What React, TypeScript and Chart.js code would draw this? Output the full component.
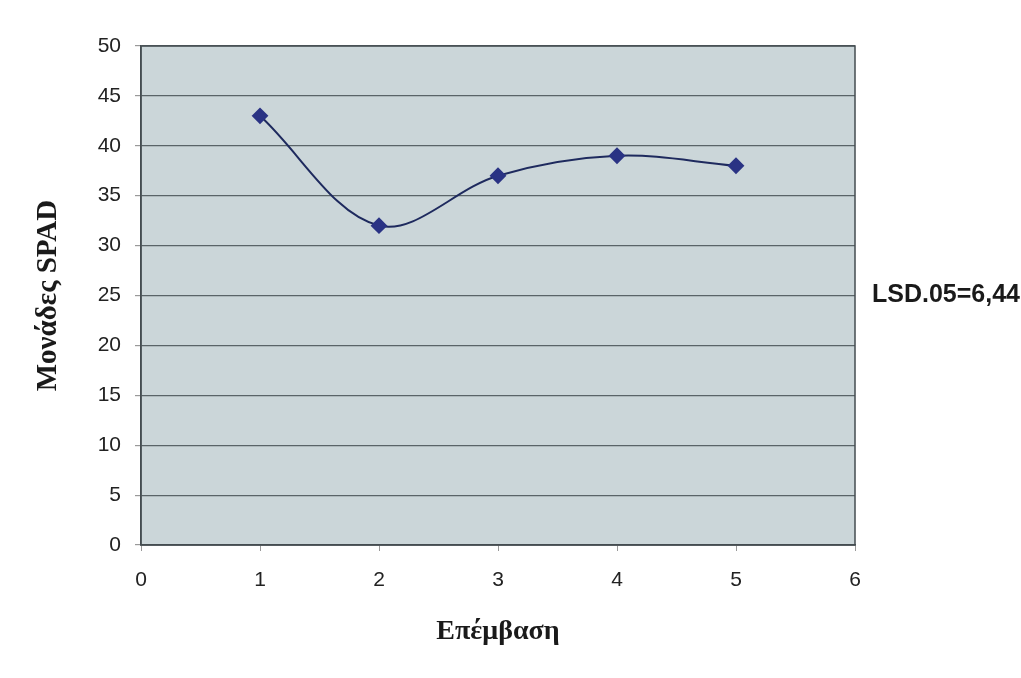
import React, { useEffect, useRef } from "react";
import { Chart, registerables } from "chart.js";

Chart.register(...registerables);

const treatments = [1, 2, 3, 4, 5];
const spadValues = [43, 32, 37, 39, 38];
const xTicksRange = { min: 0, max: 6, step: 1 };
const yTicksRange = { min: 0, max: 50, step: 5 };
const xTitle = "Επέμβαση";
const yTitle = "Μονάδες SPAD";
const lsdLabel = "LSD.05=6,44";
const lsdValue = 25;

const plotFrame = {
  id: "plotFrame",
  beforeDraw(chart: any) {
    const { ctx, chartArea } = chart;
    ctx.save();
    ctx.fillStyle = "#cbd6d9";
    ctx.fillRect(chartArea.left, chartArea.top, chartArea.right - chartArea.left, chartArea.bottom - chartArea.top);
    ctx.restore();
  },
  afterDatasetsDraw(chart: any) {
    const { ctx, chartArea, scales } = chart;
    ctx.save();
    ctx.strokeStyle = "#444c50";
    ctx.lineWidth = 1.5;
    ctx.strokeRect(chartArea.left, chartArea.top, chartArea.right - chartArea.left, chartArea.bottom - chartArea.top);
    ctx.fillStyle = "#1a1a1a";
    ctx.font = "bold 25px 'Liberation Sans', Arial, sans-serif";
    ctx.textAlign = "left";
    ctx.textBaseline = "middle";
    ctx.fillText(lsdLabel, chartArea.right + 17, scales.y.getPixelForValue(lsdValue));
    ctx.restore();
  },
};

export default function App() {
  const canvasRef = useRef<HTMLCanvasElement | null>(null);

  useEffect(() => {
    document.body.style.margin = "0";
    const canvas = canvasRef.current;
    if (!canvas) return;
    const chart = new Chart(canvas, {
      type: "line",
      data: {
        datasets: [
          {
            data: treatments.map((t, i) => ({ x: t, y: spadValues[i] })),
            borderColor: "#1e2a5e",
            borderWidth: 2,
            tension: 0.35,
            pointStyle: "rectRot",
            pointRadius: 7,
            pointBackgroundColor: "#2a3384",
            pointBorderColor: "#2a3384",
            fill: false,
          },
        ],
      },
      options: {
        animation: false,
        responsive: false,
        maintainAspectRatio: false,
        layout: { padding: { left: 0, right: 166, top: 46, bottom: 0 } },
        plugins: { legend: { display: false }, tooltip: { enabled: false } },
        scales: {
          x: {
            type: "linear",
            min: xTicksRange.min,
            max: xTicksRange.max,
            border: { display: true, color: "#444c50", width: 1.5 },
            grid: { drawOnChartArea: false, tickLength: 6, color: "#999" },
            ticks: {
              stepSize: xTicksRange.step,
              padding: 17,
              color: "#222",
              font: { family: "'Liberation Sans', Arial, sans-serif", size: 21 },
            },
            title: {
              display: true,
              text: xTitle,
              color: "#1a1a1a",
              font: { family: "'Liberation Serif', 'Times New Roman', serif", size: 28, weight: "bold" },
              padding: { top: 0, bottom: 29 },
            },
            afterFit(scale: any) {
              scale.height = 133;
            },
          },
          y: {
            type: "linear",
            min: yTicksRange.min,
            max: yTicksRange.max,
            border: { display: true, color: "#444c50", width: 1.5 },
            grid: { color: "#5a6468", lineWidth: 1.2, tickLength: 6, tickColor: "#999" },
            ticks: {
              stepSize: yTicksRange.step,
              padding: 14,
              color: "#222",
              font: { family: "'Liberation Sans', Arial, sans-serif", size: 21 },
            },
            title: {
              display: true,
              text: yTitle,
              color: "#1a1a1a",
              font: { family: "'Liberation Serif', 'Times New Roman', serif", size: 29, weight: "bold" },
              padding: { top: 31, bottom: 0 },
            },
            afterFit(scale: any) {
              scale.width = 141;
            },
          },
        },
      },
      plugins: [plotFrame],
    });
    return () => chart.destroy();
  }, []);

  return (
    <div style={{ position: "fixed", left: 0, top: 0, width: 1021, height: 678, background: "#fff" }}>
      <canvas ref={canvasRef} width={1021} height={678} style={{ width: 1021, height: 678, display: "block" }} />
    </div>
  );
}
